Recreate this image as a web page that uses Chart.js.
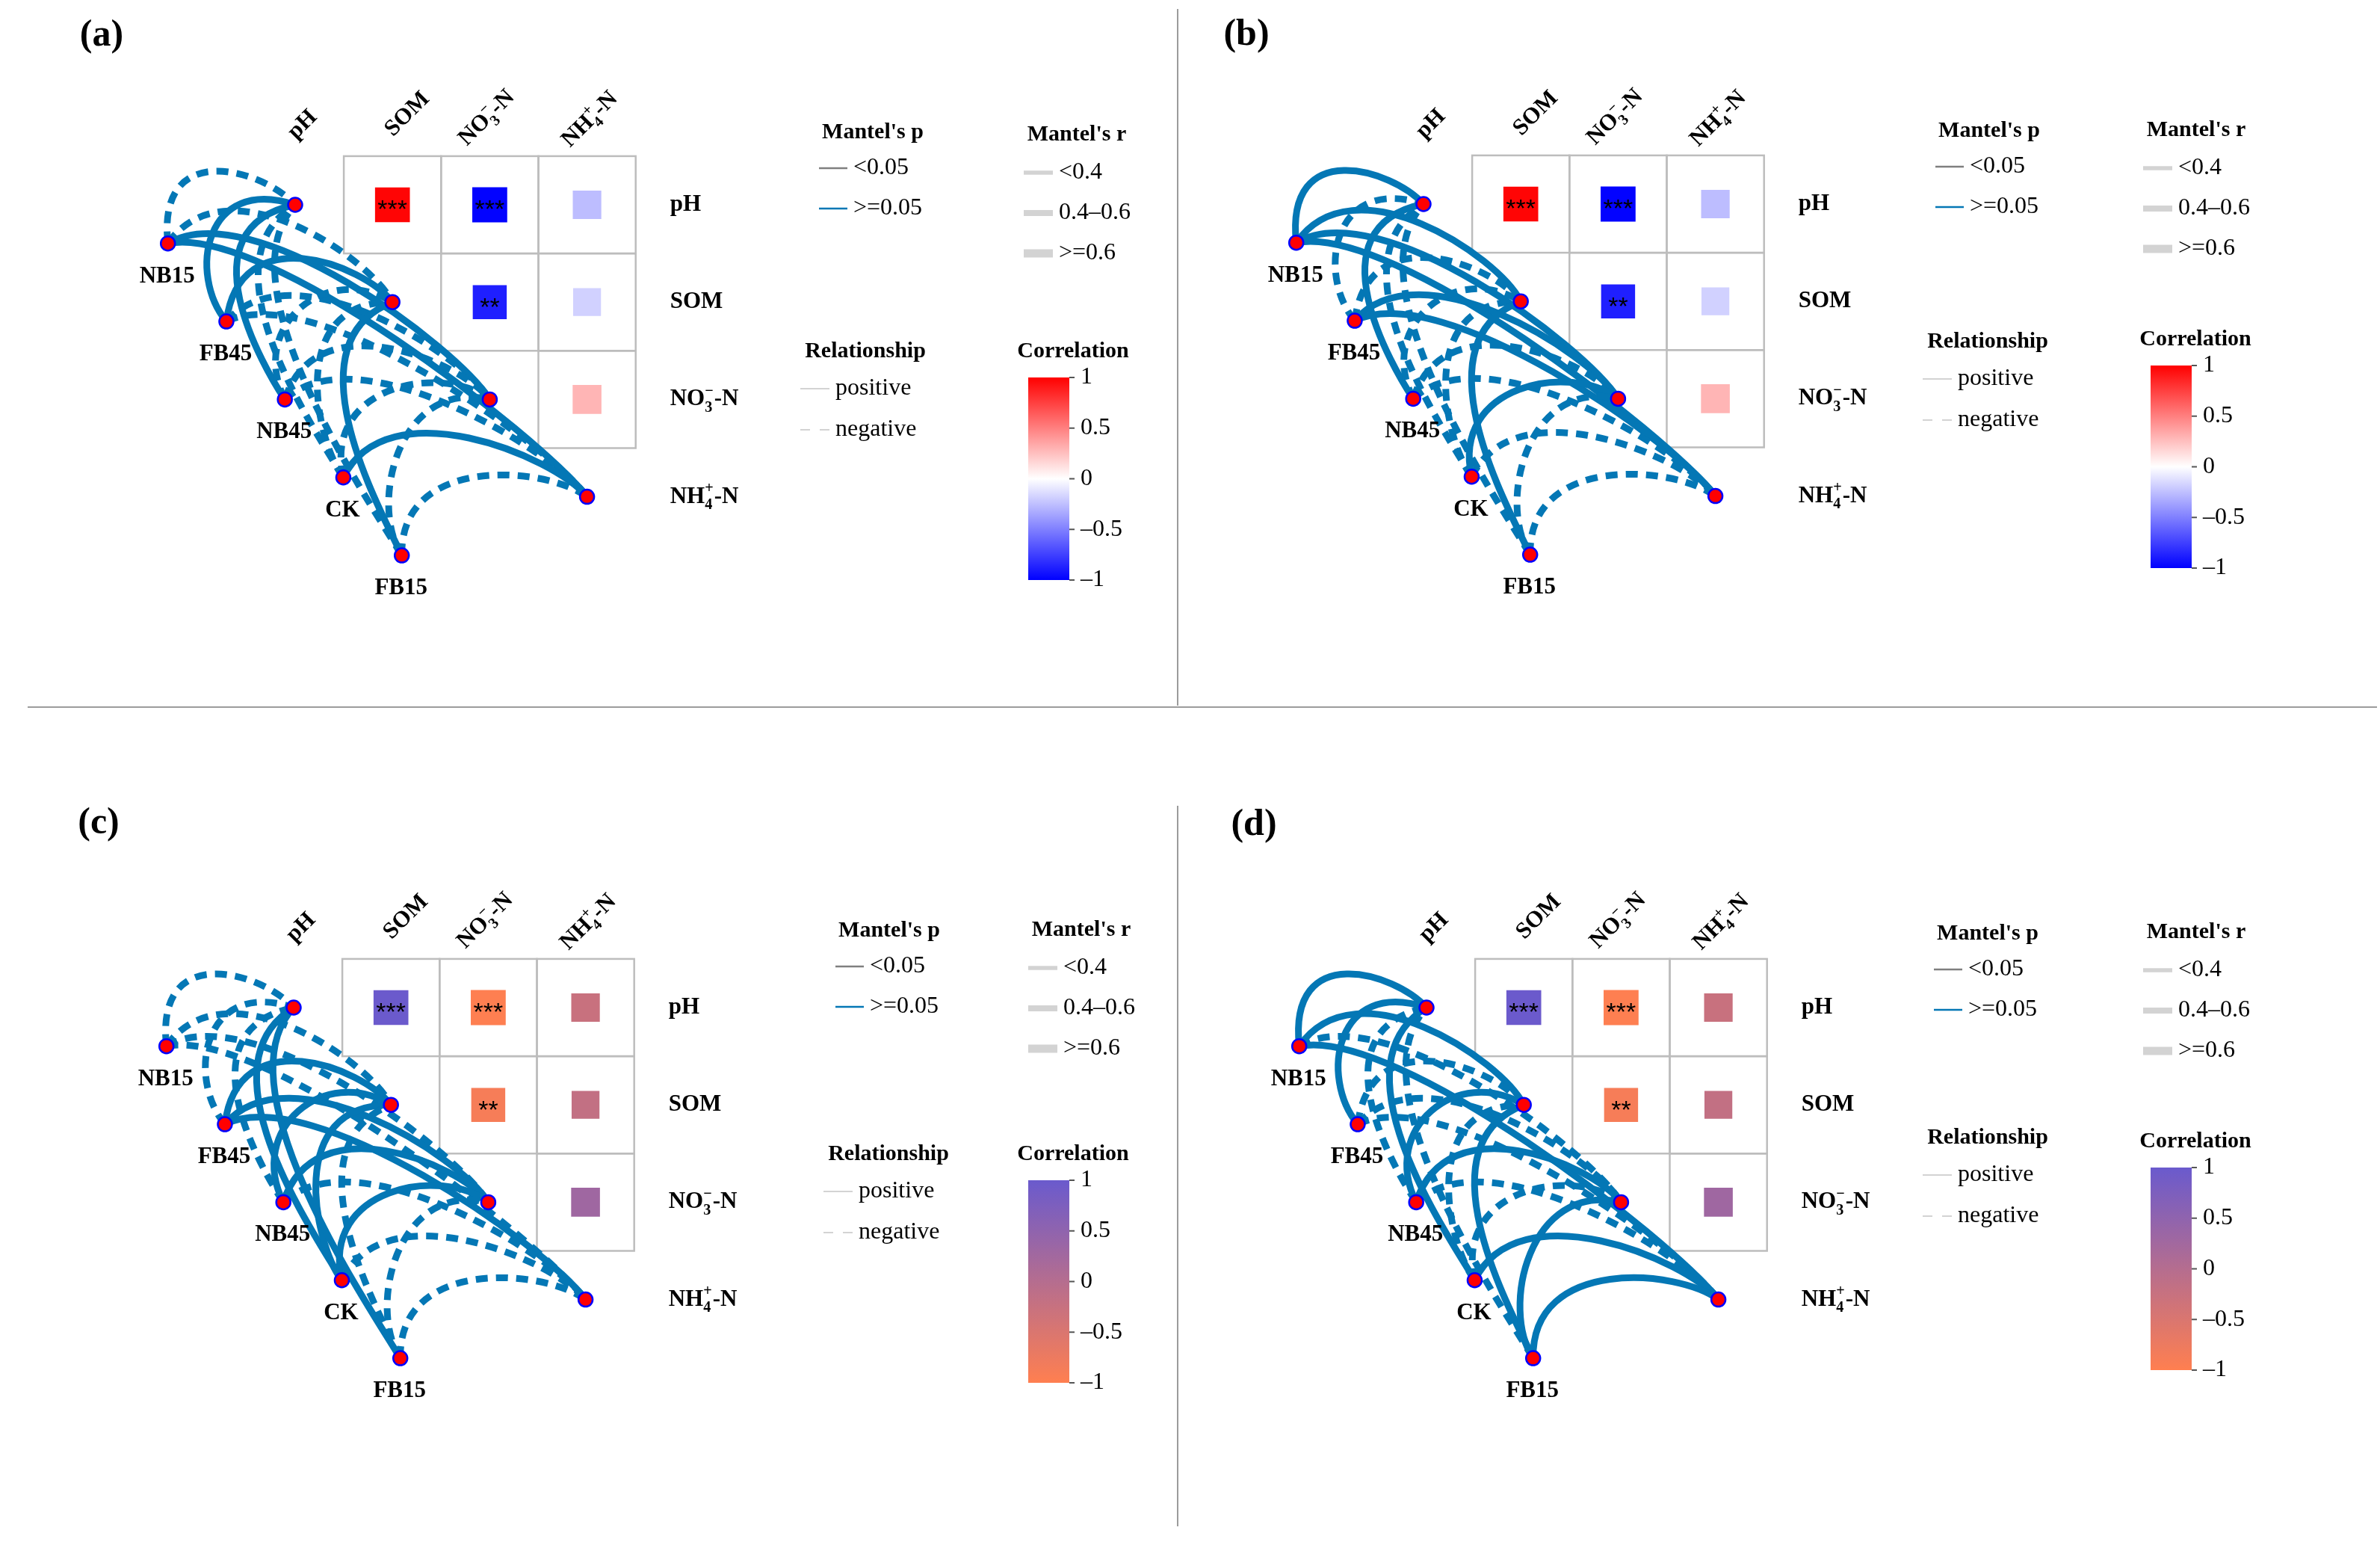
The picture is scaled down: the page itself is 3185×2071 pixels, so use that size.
<!DOCTYPE html>
<html>
<head>
<meta charset="utf-8">
<script src="https://cdn.jsdelivr.net/npm/chart.js@4.4.1/dist/chart.umd.min.js"></script>
<style>
  body { margin: 0; background: #fff; width: 3185px; height: 2071px; position: relative; overflow: hidden; }
  .panel { position: absolute; width: 1580px; height: 1030px; }
  .sep { position: absolute; background: #9c9c9c; }
</style>
</head>
<body>
<div class="sep" style="left:1575px;top:12px;width:2px;height:932px"></div>
<div class="sep" style="left:37px;top:945px;width:3144px;height:2px"></div>
<div class="sep" style="left:1575px;top:1078px;width:2px;height:964px"></div>

<div class="panel" style="left:0px;top:-1px"><canvas id="chartA" width="1580" height="1030"></canvas></div>
<div class="panel" style="left:1510px;top:-2px"><canvas id="chartB" width="1580" height="1030"></canvas></div>
<div class="panel" style="left:-2px;top:1073px"><canvas id="chartC" width="1580" height="1030"></canvas></div>
<div class="panel" style="left:1514px;top:1073px"><canvas id="chartD" width="1580" height="1030"></canvas></div>

<script>
// ---- data ----
const envVars = ['pH', 'SOM', 'NO3', 'NH4'];
const envLabels = ['pH', 'SOM',
  { base: 'NO', sub: '3', sup: '\u2212', tail: '-N' },
  { base: 'NH', sub: '4', sup: '+', tail: '-N' }];
const groups = ['NB15', 'FB45', 'NB45', 'CK', 'FB15'];

// correlation between soil factors (upper triangle, row = y, col = x)
const corrRow = [0, 0, 0, 1, 1, 2];
const corrCol = [1, 2, 3, 2, 3, 3];
const corrValues = [0.98, -0.99, -0.26, -0.88, -0.18, 0.29];
const corrStars = ['***', '***', '', '**', '', ''];

// Mantel's r per group (rows) x factor (cols); sign gives the relationship
const mantelR_a = [
  [-0.21, -0.17, 0.19, 0.23],
  [0.27, 0.14, -0.10, -0.18],
  [0.30, -0.15, -0.22, -0.12],
  [-0.19, -0.09, -0.13, 0.16],
  [-0.24, 0.21, -0.11, -0.26]
];
const mantelR_b = [
  [0.29, 0.22, 0.17, 0.20],
  [-0.12, -0.16, 0.14, 0.18],
  [0.26, -0.10, -0.19, -0.15],
  [-0.20, -0.08, 0.12, -0.17],
  [-0.23, 0.18, -0.14, -0.25]
];
const mantelR_c = [
  [-0.28, -0.22, -0.15, -0.19],
  [-0.13, 0.24, 0.20, 0.17],
  [-0.18, 0.21, 0.16, -0.11],
  [0.25, 0.12, 0.19, -0.14],
  [0.22, -0.09, -0.16, -0.27]
];
const mantelR_d = [
  [0.31, 0.23, -0.12, 0.18],
  [0.20, -0.14, -0.17, -0.10],
  [-0.16, 0.26, 0.22, -0.13],
  [0.24, -0.11, -0.18, 0.21],
  [-0.19, 0.27, 0.15, 0.29]
];
// Mantel's p (all links are >= 0.05, drawn blue)
const mantelP_a = [[0.21, 0.34, 0.18, 0.12], [0.09, 0.41, 0.56, 0.27], [0.07, 0.38, 0.22, 0.47], [0.25, 0.66, 0.43, 0.31], [0.15, 0.19, 0.52, 0.11]];
const mantelP_b = [[0.08, 0.14, 0.29, 0.19], [0.48, 0.33, 0.37, 0.24], [0.11, 0.57, 0.21, 0.30], [0.18, 0.71, 0.45, 0.26], [0.13, 0.23, 0.36, 0.10]];
const mantelP_c = [[0.06, 0.12, 0.32, 0.20], [0.44, 0.10, 0.16, 0.25], [0.22, 0.15, 0.28, 0.53], [0.09, 0.46, 0.17, 0.35], [0.14, 0.62, 0.27, 0.08]];
const mantelP_d = [[0.05, 0.11, 0.41, 0.21], [0.17, 0.36, 0.24, 0.58], [0.26, 0.09, 0.13, 0.39], [0.12, 0.49, 0.22, 0.16], [0.20, 0.07, 0.31, 0.06]];

// legend contents
const pLevels = ['<0.05', '>=0.05'];
const rLevels = ['<0.4', '0.4\u20130.6', '>=0.6'];
const rWidths = [5.5, 8, 11];
const relLevels = ['positive', 'negative'];
const corrTicks = [1, 0.5, 0, -0.5, -1];
const corrTickLabels = ['1', '0.5', '0', '\u20130.5', '\u20131'];

// ---- styling / layout ----
const SERIF = "'Liberation Serif', 'Times New Roman', serif";
const LINK_BLUE = '#0477b5';
const SIG_GREY = '#7f7f7f';
const CELL = 130.2;          // px per grid cell
const W = 1580, H = 1030;
const PH_X = 395, PH_Y = 275; // where the pH diagonal cell sits inside a panel canvas

function groupPos(i) {
  // nodes are evenly spaced along a line parallel to the diagonal
  return { x: -1.308 + 0.601 * i, y: 0.397 + 0.8015 * i };
}

function mix(c1, c2, t) {
  const m = k => Math.round(c1[k] + (c2[k] - c1[k]) * t);
  return 'rgb(' + m(0) + ',' + m(1) + ',' + m(2) + ')';
}
const palettes = {
  rwb: {
    color: v => v >= 0 ? mix([255, 255, 255], [255, 0, 0], v) : mix([255, 255, 255], [0, 0, 255], -v),
    stops: [[0, '#ff0000'], [0.5, '#ffffff'], [1, '#0000ff']]
  },
  cs: {
    color: v => mix([255, 127, 80], [106, 90, 205], (v + 1) / 2),
    stops: [[0, '#6a5acd'], [0.5, mix([255, 127, 80], [106, 90, 205], 0.5)], [1, '#ff7f50']]
  }
};

function font(weight, size, fam) { return weight + ' ' + size + 'px ' + (fam || SERIF); }

function labelWidth(ctx, lab, size, weight) {
  ctx.font = font(weight, size);
  if (typeof lab === 'string') return ctx.measureText(lab).width;
  const wb = ctx.measureText(lab.base).width, wt = ctx.measureText(lab.tail).width;
  ctx.font = font(weight, size * 0.65);
  const ws = Math.max(ctx.measureText(lab.sub).width, ctx.measureText(lab.sup).width);
  return wb + ws + wt + 1;
}

function drawLabel(ctx, lab, x, y, size, weight, align) {
  const w = labelWidth(ctx, lab, size, weight);
  let cx = align === 'center' ? x - w / 2 : (align === 'right' ? x - w : x);
  ctx.textAlign = 'left';
  ctx.textBaseline = 'middle';
  ctx.font = font(weight, size);
  if (typeof lab === 'string') { ctx.fillText(lab, cx, y); return; }
  ctx.fillText(lab.base, cx, y);
  cx += ctx.measureText(lab.base).width;
  ctx.font = font(weight, size * 0.65);
  const ws = Math.max(ctx.measureText(lab.sub).width, ctx.measureText(lab.sup).width);
  ctx.fillText(lab.sub, cx, y + size * 0.36);
  ctx.fillText(lab.sup, cx, y - size * 0.34);
  cx += ws + 1;
  ctx.font = font(weight, size);
  ctx.fillText(lab.tail, cx, y);
}

function hline(ctx, x0, x1, y, width, color, dash) {
  ctx.save();
  ctx.beginPath();
  ctx.moveTo(x0, y);
  ctx.lineTo(x1, y);
  ctx.lineWidth = width;
  ctx.strokeStyle = color;
  ctx.setLineDash(dash || []);
  ctx.stroke();
  ctx.restore();
}

// column-label centres relative to (column centre, grid top)
const colLabelOffset = [[10, -42], [20, -56], [-4, -51], [4, -49]];

// control points of one curved link; the bow leans towards the factor end
// for steep links and towards the group end for flat ones
function linkCurve(x0, y0, x1, y1, unit) {
  const dx = x1 - x0, dy = y1 - y0, len = Math.hypot(dx, dy);
  const nx = dy / len, ny = -dx / len;
  const cells = len / unit;
  const bulge = Math.max(0.36, 0.68 - 0.058 * cells) * unit;
  const phi = Math.atan2(-dy, dx) * 180 / Math.PI;
  const skew = 0.4 + 0.28 * Math.min(1, Math.max(0, (phi - 17) / 75));
  const sigma = Math.min(0.8, Math.max(-0.5, (skew - 0.5) * 4.2));
  const k = bulge / (0.75 + 0.1 * Math.abs(sigma));
  const k1 = k * (1 - sigma), k2 = k * (1 + sigma), a = 0.15;
  return [x0 + a * dx + k1 * nx, y0 + a * dy + k1 * ny,
          x1 - a * dx + k2 * nx, y1 - a * dy + k2 * ny];
}

function mantelLayer(cfg) {
  return {
    id: 'mantelLayer',
    beforeDatasetsDraw(chart) {
      const ctx = chart.ctx, xs = chart.scales.x, ys = chart.scales.y;
      const unit = xs.getPixelForValue(1) - xs.getPixelForValue(0);
      ctx.save();
      // grid of the correlation triangle
      ctx.strokeStyle = '#bdbdbd';
      ctx.lineWidth = 2.5;
      corrRow.forEach((r, k) => {
        const c = corrCol[k];
        const x0 = xs.getPixelForValue(c - 0.5), x1 = xs.getPixelForValue(c + 0.5);
        const y0 = ys.getPixelForValue(r - 0.5), y1 = ys.getPixelForValue(r + 0.5);
        ctx.strokeRect(x0, y0, x1 - x0, y1 - y0);
      });
      // curved Mantel links, group node -> factor node
      ctx.lineCap = 'butt';
      groups.forEach((g, i) => {
        const gp = groupPos(i);
        envVars.forEach((e, j) => {
          const r = cfg.mantelR[i][j], p = cfg.mantelP[i][j];
          const x0 = xs.getPixelForValue(gp.x), y0 = ys.getPixelForValue(gp.y);
          const x1 = xs.getPixelForValue(j), y1 = ys.getPixelForValue(j);
          const cp = linkCurve(x0, y0, x1, y1, unit);
          ctx.beginPath();
          ctx.moveTo(x0, y0);
          ctx.bezierCurveTo(cp[0], cp[1], cp[2], cp[3], x1, y1);
          const ar = Math.abs(r);
          ctx.lineWidth = ar < 0.4 ? 9 : (ar < 0.6 ? 11 : 13);
          ctx.strokeStyle = p < 0.05 ? SIG_GREY : LINK_BLUE;
          ctx.setLineDash(r >= 0 ? [] : [16, 11]);
          ctx.stroke();
        });
      });
      ctx.restore();
    },
    afterDatasetsDraw(chart) {
      const ctx = chart.ctx, xs = chart.scales.x, ys = chart.scales.y;
      ctx.save();
      ctx.fillStyle = '#000';
      // significance stars
      corrRow.forEach((r, k) => {
        if (!corrStars[k]) return;
        ctx.font = font('normal', 34, "'Liberation Sans', Arial, sans-serif");
        ctx.textAlign = 'center';
        ctx.textBaseline = 'middle';
        ctx.fillText(corrStars[k], xs.getPixelForValue(corrCol[k]), ys.getPixelForValue(r) + 8);
      });
      // row labels (right of grid)
      const rightEdge = xs.getPixelForValue(3.5);
      envLabels.forEach((lab, i) => drawLabel(ctx, lab, rightEdge + 46, ys.getPixelForValue(i), 31, 'bold', 'left'));
      // column labels (rotated)
      const topEdge = ys.getPixelForValue(-0.5);
      envLabels.forEach((lab, j) => {
        ctx.save();
        ctx.translate(xs.getPixelForValue(j) + colLabelOffset[j][0], topEdge + colLabelOffset[j][1]);
        ctx.rotate(-Math.PI / 4);
        drawLabel(ctx, lab, 0, 0, 31, 'bold', 'center');
        ctx.restore();
      });
      // group labels
      groups.forEach((g, i) => {
        const gp = groupPos(i);
        drawLabel(ctx, g, xs.getPixelForValue(gp.x) - 1, ys.getPixelForValue(gp.y) + 44, 31, 'bold', 'center');
      });
      // panel tag
      ctx.font = font('bold', 50);
      ctx.textAlign = 'center';
      ctx.textBaseline = 'middle';
      ctx.fillText(cfg.tag, cfg.tagPos[0] - cfg.origin[0], cfg.tagPos[1] - cfg.origin[1]);
      drawLegends(ctx, cfg);
      ctx.restore();
    }
  };
}

function drawLegends(ctx, cfg) {
  const at = (blk, x, y) => [x + cfg.delta[blk][0] - cfg.origin[0], y + cfg.delta[blk][1] - cfg.origin[1]];
  const title = (blk, s, x, y) => { const p = at(blk, x, y); drawLabel(ctx, s, p[0], p[1], 30, 'bold', 'center'); };
  ctx.fillStyle = '#000';

  // Mantel's p
  title('mp', "Mantel's p", 1168, 177);
  pLevels.forEach((lab, k) => {
    const y = 225 + 54 * k;
    const p0 = at('mp', 1096, y), p1 = at('mp', 1134, y);
    hline(ctx, p0[0], p1[0], p0[1], 2.5, k === 0 ? SIG_GREY : LINK_BLUE);
    const t = at('mp', 1142, y);
    drawLabel(ctx, lab, t[0], t[1], 32, 'normal', 'left');
  });

  // Mantel's r
  title('mr', "Mantel's r", 1441, 180);
  rLevels.forEach((lab, k) => {
    const y = 231 + 54 * k;
    const p0 = at('mr', 1370, y), p1 = at('mr', 1409, y);
    hline(ctx, p0[0], p1[0], p0[1], rWidths[k], '#d3d3d3');
    const t = at('mr', 1417, y);
    drawLabel(ctx, lab, t[0], t[1], 32, 'normal', 'left');
  });

  // Relationship
  title('rel', 'Relationship', 1158, 470);
  relLevels.forEach((lab, k) => {
    const y = 520 + 55 * k;
    const p0 = at('rel', 1071, y), p1 = at('rel', 1110, y);
    hline(ctx, p0[0], p1[0], p0[1], 2, '#d3d3d3', k === 0 ? [] : [13, 13]);
    const t = at('rel', 1118, y);
    drawLabel(ctx, lab, t[0], t[1], 32, 'normal', 'left');
  });

  // Correlation colour bar
  title('corr', 'Correlation', 1436, 470);
  const b0 = at('corr', 1376, 505), b1 = at('corr', 1431, 776);
  const grad = ctx.createLinearGradient(0, b0[1], 0, b1[1]);
  palettes[cfg.palette].stops.forEach(s => grad.addColorStop(s[0], s[1]));
  ctx.fillStyle = grad;
  ctx.fillRect(b0[0], b0[1], b1[0] - b0[0], b1[1] - b0[1]);
  ctx.fillStyle = '#000';
  corrTicks.forEach((v, k) => {
    const y = b0[1] + (1 - v) / 2 * (b1[1] - b0[1]);
    hline(ctx, b1[0], b1[0] + 7, y, 2, '#555');
    drawLabel(ctx, corrTickLabels[k], b1[0] + 15, y, 32, 'normal', 'left');
  });
}

function makePanel(canvasId, cfg) {
  const pal = palettes[cfg.palette];
  const unitPx = chart => {
    const xs = chart.scales && chart.scales.x;
    const u = xs ? xs.getPixelForValue(1) - xs.getPixelForValue(0) : NaN;
    return isFinite(u) && u > 0 ? u : CELL;
  };
  new Chart(document.getElementById(canvasId), {
    type: 'scatter',
    data: {
      datasets: [
        {
          label: 'factor nodes',
          data: envVars.map((e, i) => ({ x: i, y: i })),
          pointRadius: 9.5, pointBorderWidth: 2.5,
          pointBackgroundColor: '#ff0000', pointBorderColor: '#0000ff'
        },
        {
          label: 'group nodes',
          data: groups.map((g, i) => groupPos(i)),
          pointRadius: 9.5, pointBorderWidth: 2.5,
          pointBackgroundColor: '#ff0000', pointBorderColor: '#0000ff'
        },
        {
          label: 'correlation',
          data: corrRow.map((r, k) => ({ x: corrCol[k], y: r, v: corrValues[k] })),
          pointStyle: 'rect',
          pointRadius: c => unitPx(c.chart) * (0.27 + 0.09 * Math.abs(c.raw.v)) / Math.SQRT2,
          pointBackgroundColor: c => pal.color(c.raw.v),
          pointBorderWidth: 0
        }
      ]
    },
    options: {
      responsive: false,
      animation: false,
      devicePixelRatio: 1,
      events: [],
      layout: { autoPadding: false, padding: 0 },
      plugins: { legend: { display: false }, tooltip: { enabled: false } },
      scales: {
        x: { type: 'linear', display: false, min: -PH_X / CELL, max: (W - PH_X) / CELL },
        y: { type: 'linear', display: false, reverse: true, min: -PH_Y / CELL, max: (H - PH_Y) / CELL }
      }
    },
    plugins: [mantelLayer(cfg)]
  });
}

makePanel('chartA', {
  tag: '(a)', tagPos: [136, 48], origin: [0, -1], palette: 'rwb',
  mantelR: mantelR_a, mantelP: mantelP_a,
  delta: { mp: [0, 0], mr: [0, 0], rel: [0, 0], corr: [0, 0] }
});
makePanel('chartB', {
  tag: '(b)', tagPos: [1668, 47], origin: [1510, -2], palette: 'rwb',
  mantelR: mantelR_b, mantelP: mantelP_b,
  delta: { mp: [1494, -2], mr: [1498, -6], rel: [1502, -13], corr: [1502, -16] }
});
makePanel('chartC', {
  tag: '(c)', tagPos: [132, 1102], origin: [-2, 1073], palette: 'cs',
  mantelR: mantelR_c, mantelP: mantelP_c,
  delta: { mp: [22, 1068], mr: [6, 1064], rel: [31, 1074], corr: [0, 1074] }
});
makePanel('chartD', {
  tag: '(d)', tagPos: [1678, 1104], origin: [1514, 1073], palette: 'cs',
  mantelR: mantelR_d, mantelP: mantelP_d,
  delta: { mp: [1492, 1072], mr: [1498, 1067], rel: [1502, 1052], corr: [1502, 1057] }
});
</script>
</body>
</html>
